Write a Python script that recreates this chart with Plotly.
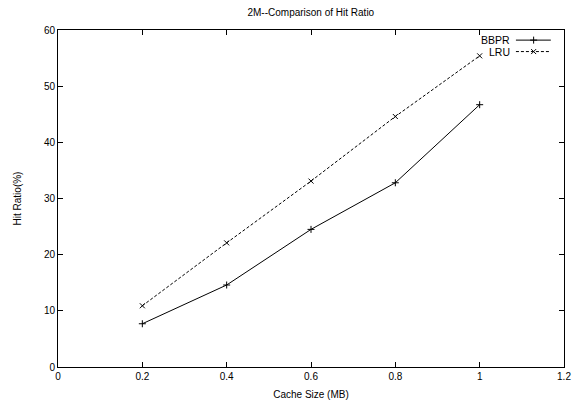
import plotly.graph_objects as go

cache_size = [0.2, 0.4, 0.6, 0.8, 1.0]
bbpr = [7.7, 14.6, 24.5, 32.8, 46.7]
lru = [10.9, 22.1, 33.1, 44.6, 55.4]
x_ticks = [0, 0.2, 0.4, 0.6, 0.8, 1, 1.2]
x_tick_labels = ["0", "0.2", "0.4", "0.6", "0.8", "1", "1.2"]
y_ticks = [0, 10, 20, 30, 40, 50, 60]

FONT = "Liberation Sans, Arial, Helvetica, sans-serif"

fig = go.Figure()
fig.add_trace(go.Scatter(
    x=cache_size, y=bbpr, mode="lines+markers", name="BBPR",
    line=dict(color="black", width=1),
    marker=dict(symbol="cross-thin-open", size=5, color="black",
                line=dict(color="black", width=1)),
    showlegend=False))
fig.add_trace(go.Scatter(
    x=cache_size, y=lru, mode="lines+markers", name="LRU",
    line=dict(color="black", width=1, dash="3px,2px"),
    marker=dict(symbol="x-thin-open", size=5, color="black",
                line=dict(color="black", width=1)),
    showlegend=False))

# gnuplot-style key (text left, sample right) drawn on an overlay 0..1 axis
key_names = ["BBPR", "LRU"]
key_y = [0.970, 0.936]
key_dash = ["solid", "3px,2px"]
key_sym = ["cross-thin-open", "x-thin-open"]
key_size = [5, 5]
for name, ky, dsh, sym, sz in zip(key_names, key_y, key_dash, key_sym, key_size):
    fig.add_trace(go.Scatter(
        x=[0.905, 0.974], y=[ky, ky], mode="lines", xaxis="x2", yaxis="y2",
        line=dict(color="black", width=1, dash=dsh), showlegend=False, hoverinfo="skip"))
    fig.add_trace(go.Scatter(
        x=[0.940], y=[ky], mode="markers", xaxis="x2", yaxis="y2",
        marker=dict(symbol=sym, size=sz, color="black", line=dict(color="black", width=1)),
        showlegend=False, hoverinfo="skip"))
    fig.add_annotation(x=0.898, y=ky, xref="x2", yref="y2", text=name,
                       showarrow=False, xanchor="right", yanchor="middle",
                       font=dict(family=FONT, size=10.5, color="black"))

axis_common = dict(showgrid=False, zeroline=False, showline=True, linecolor="black",
                   linewidth=1, mirror="ticks", ticks="inside", ticklen=5,
                   tickcolor="black", tickwidth=1, automargin=False,
                   tickfont=dict(family=FONT, size=10, color="black"))

fig.update_layout(
    width=581, height=402,
    margin=dict(l=58, r=17, t=30, b=35),
    paper_bgcolor="white", plot_bgcolor="white",
    title=dict(text="2M--Comparison of Hit Ratio", x=0.535, xanchor="center",
               y=0.97, yanchor="middle",
               font=dict(family=FONT, size=10, color="black")),
    xaxis=dict(range=[0, 1.2], tickvals=x_ticks, ticktext=x_tick_labels,
               title=dict(text="Cache Size (MB)", standoff=9,
                          font=dict(family=FONT, size=10, color="black")),
               **axis_common),
    yaxis=dict(range=[0, 60], tickvals=y_ticks,
               title=dict(text="Hit Ratio(%)", standoff=20,
                          font=dict(family=FONT, size=10, color="black")),
               **axis_common),
    xaxis2=dict(overlaying="x", range=[0, 1], visible=False, fixedrange=True),
    yaxis2=dict(overlaying="y", range=[0, 1], visible=False, fixedrange=True),
)

fig.write_html("out.html")
